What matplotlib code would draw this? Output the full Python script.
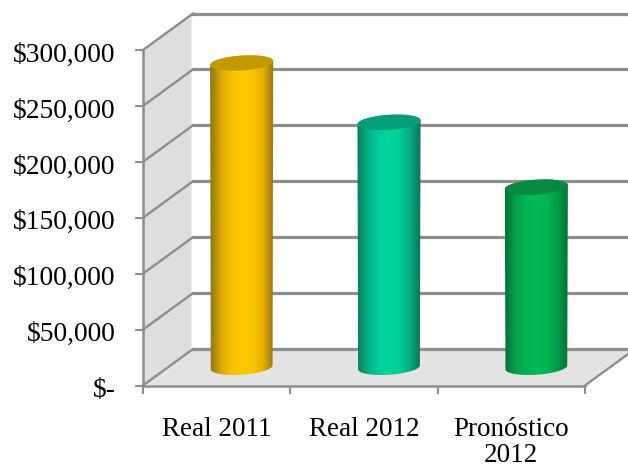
import numpy as np
import matplotlib
matplotlib.use('Agg')
import matplotlib.pyplot as plt
from matplotlib.colors import LinearSegmentedColormap
from matplotlib.patches import Polygon, PathPatch
from matplotlib.path import Path
from matplotlib.transforms import ScaledTranslation

plt.rcParams['font.family'] = ['Liberation Serif', 'DejaVu Serif']

categories = ['Real 2011', 'Real 2012', 'Pronóstico\n2012']
values = [272000, 219000, 161000]
ytick_values = [0, 50000, 100000, 150000, 200000, 250000, 300000]
ytick_labels = ['$-', '$50,000', '$100,000', '$150,000', '$200,000', '$250,000', '$300,000']

body_colors = [
    ['#8f7415', '#d8a806', '#f8c000', '#ffcb03', '#fcc400', '#e6b002', '#94761a'],
    ['#0b7a5f', '#04b084', '#00ce9a', '#00d69c', '#00ce98', '#04a87e', '#0b7358'],
    ['#067238', '#04a048', '#01b454', '#00bb58', '#01b252', '#049a46', '#066c35'],
]
top_colors = ['#c49a02', '#049f79', '#068a42']
grid_color = '#8e8e8e'

W, H = 628, 467
fig = plt.figure(figsize=(W / 100, H / 100), dpi=100)
ax = fig.add_axes([143 / W, (H - 385.5) / H, 442 / W, 335.5 / H])
ax.patch.set_visible(False)

# depth of the fake 3d box, in data units
depth_x = 50 / 442 * len(categories)
depth_y = 36.5 / 335.5 * ytick_values[-1]
ymax = ytick_values[-1]
xmax = len(categories)

# side wall and floor
ax.add_patch(Polygon([(0, 0), (depth_x * 0.97, depth_y), (depth_x * 0.97, ymax + depth_y), (0, ymax)],
                     closed=True, fc='#dedede', ec='none', clip_on=False, zorder=1))
ax.add_patch(Polygon([(0, 0), (xmax, 0), (xmax + depth_x, depth_y), (depth_x, depth_y)],
                     closed=True, fc='#e3e3e3', ec='none', clip_on=False, zorder=1))

# gridlines on side and back wall
for v in ytick_values:
    ax.plot([0, depth_x], [v, v + depth_y], color=grid_color, lw=1.7, clip_on=False, zorder=2)
    ax.plot([depth_x, xmax + depth_x], [v + depth_y, v + depth_y], color=grid_color, lw=2.3,
            clip_on=False, zorder=2)
ax.plot([xmax, xmax + depth_x], [0, depth_y], color=grid_color, lw=1.7, clip_on=False, zorder=2)


def ellipse_xy(cx, cy, a, b, shear, t):
    return cx + a * np.cos(t), cy + b * np.sin(t) + shear * np.cos(t)


# cylinders
a = 0.214
b = 7.5 / 335.5 * ymax
shear = 2 / 335.5 * ymax
base = depth_y / 2
for i, v in enumerate(values):
    cx = i + 0.5 + depth_x / 2
    t_up = np.linspace(0, np.pi, 60)
    t_low = np.linspace(np.pi, 2 * np.pi, 60)
    xt, yt = ellipse_xy(cx, base + v, a, b, shear, t_up)
    xb, yb = ellipse_xy(cx, base, a * 0.98, b, shear, t_low)
    body = Path(np.column_stack([np.r_[xt, xb], np.r_[yt, yb]]))
    cmap = LinearSegmentedColormap.from_list('c%d' % i, body_colors[i])
    img = ax.imshow(np.linspace(0, 1, 128).reshape(1, -1), cmap=cmap, aspect='auto',
                    extent=[cx - a, cx + a, 0, ymax + depth_y], zorder=3, interpolation='bilinear')
    patch = PathPatch(body, fc='none', ec='none', transform=ax.transData)
    ax.add_patch(patch)
    img.set_clip_path(patch)
    # top cap
    t = np.linspace(0, 2 * np.pi, 120)
    xc, yc = ellipse_xy(cx, base + v, a, b, shear, t)
    ax.fill(xc, yc, color=top_colors[i], lw=0, zorder=4)

ax.set_xlim(0, xmax)
ax.set_ylim(0, ymax)

for s in ['top', 'right']:
    ax.spines[s].set_visible(False)
for s in ['left', 'bottom']:
    ax.spines[s].set_color(grid_color)
    ax.spines[s].set_linewidth(1.8)
    ax.spines[s].set_zorder(5)

ax.set_yticks(ytick_values)
ax.set_yticklabels(ytick_labels, fontsize=19.8)
ax.tick_params(axis='y', length=6, width=1.5, color=grid_color, pad=13.7)
# labels sit a bit under their ticks in the original
shift = ScaledTranslation(0, -1.5 / 72, fig.dpi_scale_trans)
for lab in ax.get_yticklabels():
    lab.set_transform(lab.get_transform() + shift)

ax.set_xticks(np.arange(xmax) + 0.5)
ax.set_xticklabels(categories, fontsize=19.5, linespacing=1.07)
ax.set_xticks(np.arange(xmax + 1), minor=True)
ax.tick_params(axis='x', which='major', length=0, pad=22.5)
ax.tick_params(axis='x', which='minor', length=6, width=1.5, color=grid_color)

fig.savefig('out.png', dpi=100)
